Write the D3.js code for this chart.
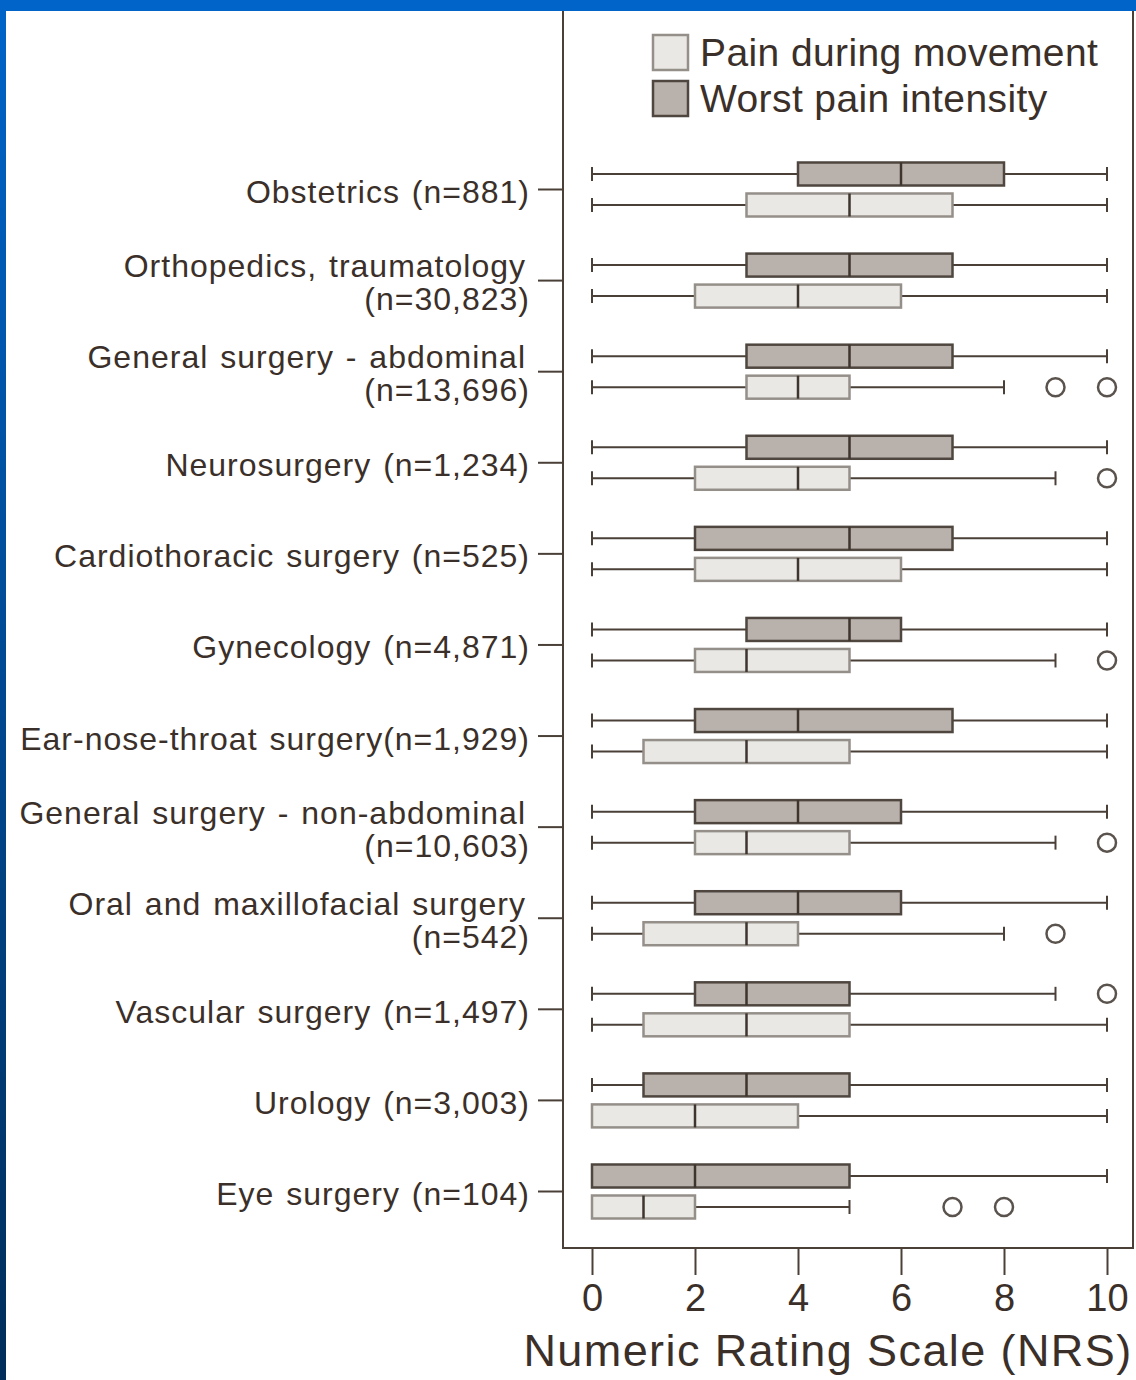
<!DOCTYPE html>
<html lang='en'>
<head>
  <meta charset='UTF-8'>
  <title>Pain by surgical discipline</title>
  <style>
  body {
    margin: 0;
    background: #fff;
  }
  text {
    font-family: 'Liberation Sans', Arial, sans-serif;
    fill: #3b3029;
  }
  .cat {
    font-size: 32px;
    letter-spacing: 1px;
    word-spacing: 2px;
  }
  .legend {
    font-size: 39px;
    letter-spacing: 0.4px;
  }
  .axis path {
    display: none;
  }
  .axis line {
    stroke: #4a4038;
    stroke-width: 2px;
  }
  .axis text {
    font-size: 38px;
  }
  .title {
    font-size: 45px;
    letter-spacing: 1.4px;
  }
  .whisker {
    stroke: #4a4038;
    stroke-width: 2px;
  }
  .median {
    stroke: #3e352e;
    stroke-width: 2.5px;
  }
  .outlier {
    fill: none;
    stroke: #5a524c;
    stroke-width: 2.5px;
  }
  </style>
  <script src='https://d3js.org/d3.v7.min.js'></script>
</head>
<body>
  <script>

  // categories, top to bottom
  var categories = [
    'Obstetrics', 'Orthopedics', 'General abdominal', 'Neurosurgery', 'Cardiothoracic',
    'Gynecology', 'ENT', 'General non-abdominal', 'Oral', 'Vascular', 'Urology', 'Eye'
  ];

  var labelLines = [
    ['Obstetrics (n=881)'],
    ['Orthopedics, traumatology', '(n=30,823)'],
    ['General surgery - abdominal', '(n=13,696)'],
    ['Neurosurgery (n=1,234)'],
    ['Cardiothoracic surgery (n=525)'],
    ['Gynecology (n=4,871)'],
    ['Ear-nose-throat surgery(n=1,929)'],
    ['General surgery - non-abdominal', '(n=10,603)'],
    ['Oral and maxillofacial surgery', '(n=542)'],
    ['Vascular surgery (n=1,497)'],
    ['Urology (n=3,003)'],
    ['Eye surgery (n=104)']
  ];

  // [low whisker, q1, median, q3, high whisker]
  var worstStats = [
    [0, 4, 6, 8, 10], [0, 3, 5, 7, 10], [0, 3, 5, 7, 10], [0, 3, 5, 7, 10],
    [0, 2, 5, 7, 10], [0, 3, 5, 6, 10], [0, 2, 4, 7, 10], [0, 2, 4, 6, 10],
    [0, 2, 4, 6, 10], [0, 2, 3, 5, 9], [0, 1, 3, 5, 10], [0, 0, 2, 5, 10]
  ];
  var worstOutliers = [[], [], [], [], [], [], [], [], [], [10], [], []];

  var movementStats = [
    [0, 3, 5, 7, 10], [0, 2, 4, 6, 10], [0, 3, 4, 5, 8], [0, 2, 4, 5, 9],
    [0, 2, 4, 6, 10], [0, 2, 3, 5, 9], [0, 1, 3, 5, 10], [0, 2, 3, 5, 9],
    [0, 1, 3, 4, 8], [0, 1, 3, 5, 10], [0, 0, 2, 4, 10], [0, 0, 1, 2, 5]
  ];
  var movementOutliers = [[], [], [9, 10], [10], [], [10], [], [10], [9], [], [], [7, 8]];

  var xTicks = [0, 2, 4, 6, 8, 10];

  var series = [
    { key: 'worst', name: 'Worst pain intensity', fill: '#b9b1ab', stroke: '#4e463f', stats: worstStats, outliers: worstOutliers },
    { key: 'movement', name: 'Pain during movement', fill: '#e9e8e4', stroke: '#958f89', stats: movementStats, outliers: movementOutliers }
  ];

  var svgWidth = 1136;
  var svgHeight = 1380;

  var frame = { left: 563, right: 1133, top: 4, bottom: 1248 };

  var svg = d3.select('body').append('svg')
    .attr('width', svgWidth)
    .attr('height', svgHeight);

  var x = d3.scaleLinear().domain([0, 10]).range([592, 1107]);
  var y = d3.scalePoint().domain(categories).range([189, 1191]);
  var sub = d3.scalePoint().domain(['worst', 'movement']).range([-15, 16]);

  var boxH = 23;
  var capH = 14;

  // plot frame
  svg.append('rect')
    .attr('x', frame.left)
    .attr('y', frame.top)
    .attr('width', frame.right - frame.left)
    .attr('height', frame.bottom - frame.top)
    .attr('fill', 'none')
    .attr('stroke', '#4a4038')
    .attr('stroke-width', 2);

  // category axis (ticks only, labels drawn by hand)
  svg.append('g')
    .attr('class', 'axis')
    .attr('transform', 'translate(' + frame.left + ',0)')
    .call(d3.axisLeft(y).tickSize(25).tickFormat(''));

  categories.forEach(function (c, i) {
    var lines = labelLines[i];
    var cy = y(c);
    if (lines.length === 1) {
      svg.append('text').attr('class', 'cat')
        .attr('x', 530).attr('y', cy + 14)
        .attr('text-anchor', 'end')
        .text(lines[0]);
    } else {
      svg.append('text').attr('class', 'cat')
        .attr('x', 526).attr('y', cy - 3)
        .attr('text-anchor', 'end')
        .text(lines[0]);
      svg.append('text').attr('class', 'cat')
        .attr('x', 530).attr('y', cy + 30)
        .attr('text-anchor', 'end')
        .text(lines[1]);
    }
  });

  // x axis
  svg.append('g')
    .attr('class', 'axis')
    .attr('transform', 'translate(0,' + frame.bottom + ')')
    .call(d3.axisBottom(x).tickValues(xTicks).tickSize(27).tickPadding(0))
    .selectAll('text')
    .attr('dy', '0.95em');

  svg.append('text')
    .attr('class', 'title')
    .attr('x', 828)
    .attr('y', 1366)
    .attr('text-anchor', 'middle')
    .text('Numeric Rating Scale (NRS)');

  // boxes
  series.forEach(function (s) {
    var g = svg.append('g');
    categories.forEach(function (c, i) {
      var st = s.stats[i];
      var cy = y(c) + sub(s.key);

      g.append('line').attr('class', 'whisker')
        .attr('x1', x(st[0])).attr('x2', x(st[1]))
        .attr('y1', cy).attr('y2', cy);
      g.append('line').attr('class', 'whisker')
        .attr('x1', x(st[3])).attr('x2', x(st[4]))
        .attr('y1', cy).attr('y2', cy);
      [st[0], st[4]].forEach(function (v) {
        g.append('line').attr('class', 'whisker')
          .attr('x1', x(v)).attr('x2', x(v))
          .attr('y1', cy - capH / 2).attr('y2', cy + capH / 2);
      });

      g.append('rect')
        .attr('x', x(st[1]))
        .attr('y', cy - boxH / 2)
        .attr('width', x(st[3]) - x(st[1]))
        .attr('height', boxH)
        .attr('fill', s.fill)
        .attr('stroke', s.stroke)
        .attr('stroke-width', 2.5);

      g.append('line').attr('class', 'median')
        .attr('x1', x(st[2])).attr('x2', x(st[2]))
        .attr('y1', cy - boxH / 2).attr('y2', cy + boxH / 2);

      s.outliers[i].forEach(function (v) {
        g.append('circle').attr('class', 'outlier')
          .attr('cx', x(v)).attr('cy', cy).attr('r', 9);
      });
    });
  });

  // legend
  var legendItems = [series[1], series[0]];
  var legend = svg.append('g');
  legendItems.forEach(function (s, i) {
    var ly = 35 + i * 46;
    legend.append('rect')
      .attr('x', 653).attr('y', ly)
      .attr('width', 35).attr('height', 35)
      .attr('fill', s.fill)
      .attr('stroke', s.stroke)
      .attr('stroke-width', 2.5);
    legend.append('text').attr('class', 'legend')
      .attr('x', 700).attr('y', ly + 31)
      .text(s.name);
  });

  // blue slide frame
  var grad = svg.append('defs').append('linearGradient')
    .attr('id', 'edge').attr('x1', 0).attr('y1', 0).attr('x2', 0).attr('y2', 1);
  grad.append('stop').attr('offset', '0%').attr('stop-color', '#0064c8');
  grad.append('stop').attr('offset', '100%').attr('stop-color', '#002d5a');

  svg.append('rect')
    .attr('x', 0).attr('y', 0)
    .attr('width', 6).attr('height', svgHeight)
    .attr('fill', 'url(#edge)');
  svg.append('rect')
    .attr('x', 0).attr('y', 0)
    .attr('width', svgWidth).attr('height', 11)
    .attr('fill', '#0064c8');
  </script>
</body>
</html>
